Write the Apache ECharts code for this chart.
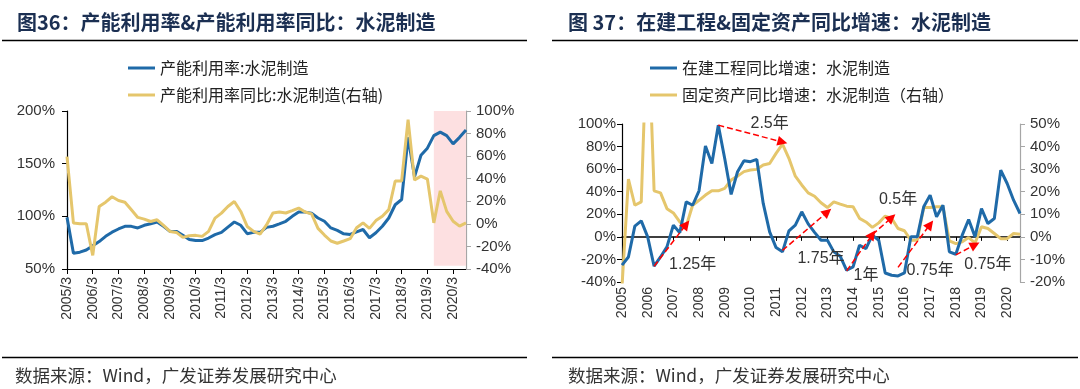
<!DOCTYPE html>
<html><head><meta charset="utf-8">
<script src="https://cdn.jsdelivr.net/npm/echarts@6/dist/echarts.min.js"></script>
<style>html,body{margin:0;padding:0;background:#fff}#c{width:1080px;height:389px}</style>
</head><body><div id="c"></div>
<script>
// ---------- DATA ----------
const quarters = [
 "2005/3","2005/6","2005/9","2005/12","2006/3","2006/6","2006/9","2006/12",
 "2007/3","2007/6","2007/9","2007/12","2008/3","2008/6","2008/9","2008/12",
 "2009/3","2009/6","2009/9","2009/12","2010/3","2010/6","2010/9","2010/12",
 "2011/3","2011/6","2011/9","2011/12","2012/3","2012/6","2012/9","2012/12",
 "2013/3","2013/6","2013/9","2013/12","2014/3","2014/6","2014/9","2014/12",
 "2015/3","2015/6","2015/9","2015/12","2016/3","2016/6","2016/9","2016/12",
 "2017/3","2017/6","2017/9","2017/12","2018/3","2018/6","2018/9","2018/12",
 "2019/3","2019/6","2019/9","2019/12","2020/3","2020/6","2020/9"
];
// Chart 36: capacity utilization (left axis, %) and its YoY (right axis, %)
const utilRate = [99,65,66,68,72,76,81,85,88,90.5,90.5,89,91.5,93,94.6,90.5,
 85.7,85.7,82,78,77,77,79.4,82.6,84.8,89.8,94.6,91.5,83.5,84.8,84.8,89.5,
 90.6,92.8,95.3,100,104,104,103,98.4,95.3,89,86.6,83.4,82.8,85.3,87.5,79.7,
 84.4,90.6,98.4,111,116,175,137.5,158,164.7,176.6,180,176.6,168.8,175,182];
const utilYoY = [59.6,0.7,0.1,0.1,-27.9,15.4,19.2,24,20.7,19.2,12.5,5.7,4.2,2.1,3.6,-1.4,
 -6.7,-7.6,-12,-10.5,-10.2,-11.1,-6.7,5.1,9.5,15.4,19.8,11,-2.3,-6.7,-9.1,-1,
 9.6,10.5,9.6,11.7,14,10.5,8.8,-4,-9.9,-15.2,-17.2,-15.2,-13.1,-3.5,0.9,-4,
 2.9,6.7,12.6,38,38,92.3,38.8,42.3,39.7,0.9,29.2,11.1,2.3,-2,0.9];
const shadeFrom = "2019/6", shadeTo = "2020/9";
// Chart 37: construction-in-progress YoY (left axis) and fixed assets YoY (right axis)
const cipYoY = [-25,-17.8,9.5,14.2,0,-26,-17.8,-8.9,10.4,3.6,31,28,40.8,80.5,65,99,
 69.5,37.6,57.7,67.5,66.6,68.6,29.6,4.4,-9.5,-13.3,5.3,10.4,22.2,11.5,4,-3,
 -3,-13.3,-17.2,-29.6,-26.6,-7.4,-10.4,1.5,-3,-32,-34,-34.6,-32,0,0,26.6,
 37,17.8,28,-13.3,-15.4,1.5,15.4,0,25,11.8,16.3,59,47.3,32.5,20.7];
const faYoY = [-22,25.6,14,15.5,100,20.4,19.5,12.5,10.6,6.6,4.7,14,16.2,18.5,20.4,20.4,
 21.5,25.2,26.9,28.9,29.6,29.9,31.8,32.5,37,41.1,34.8,26.9,23,19.5,18,15.1,
 13,15.5,14.5,13.6,13.3,8.2,6.6,4.2,6.2,9.2,8.2,3.7,2.7,-1.5,-1.5,13,
 13,13.3,13.3,-1.8,-3,-2.2,-0.3,-2.7,4.5,3.7,1.5,-0.8,-0.8,1.5,1.2];
// lead-lag arrows: [start quarter, start value(left axis), end quarter, end value(left axis)]
const arrows = [
 ["2006/6",-26,"2007/9",11],
 ["2008/12",99,"2011/6",84],
 ["2011/6",-12,"2013/3",22],
 ["2013/12",-30,"2014/12",2],
 ["2014/12",2,"2015/9",17],
 ["2015/12",-27,"2017/3",11],
 ["2018/3",-16,"2018/12",-7]
];
// annotation texts: [text, quarter, value(left axis)]
const notes = [
 ["1.25年","2007/12",-25],
 ["2.5年","2010/12",100],
 ["1.75年","2012/12",-19],
 ["1年","2014/9",-34],
 ["0.5年","2015/12",33],
 ["0.75年","2017/3",-30],
 ["0.75年","2019/6",-25]
];
const names1 = ["产能利用率:水泥制造","产能利用率同比:水泥制造(右轴)"];
const names2 = ["在建工程同比增速：水泥制造","固定资产同比增速：水泥制造（右轴）"];
const titles = ["图36：产能利用率&产能利用率同比：水泥制造","图 37：在建工程&固定资产同比增速：水泥制造"];
const source = "数据来源：Wind，广发证券发展研究中心";

// ---------- STYLE ----------
const NUM = "'Liberation Sans', Arial, 'Noto Sans CJK SC', sans-serif";
const CJK = "'Noto Sans CJK SC', sans-serif";
const BLUE = '#1F6AA8', GOLD = '#E5C66C', LABEL = '#333';

function yAx(grid, pos, min, max, step, lineColor, margin) {
  return {
    type:'value', gridIndex:grid, position:pos, min:min, max:max, interval:step,
    axisLine:{show:true, onZero:false, lineStyle:{color:lineColor, width:1.2}},
    axisTick:{show:true, length:5, lineStyle:{color:lineColor}},
    splitLine:{show:false},
    axisLabel:{formatter:'{value}%', margin:margin, fontSize:15, color:LABEL, fontFamily:NUM}
  };
}

const option = {
  animation:false,
  backgroundColor:'#fff',
  title:[
    {text:titles[0], left:12, top:7, textStyle:{fontFamily:CJK, fontSize:20, fontWeight:'bold', color:'#1B2F52'}},
    {text:titles[1], left:563, top:7, textStyle:{fontFamily:CJK, fontSize:20, fontWeight:'bold', color:'#1B2F52'}},
    {text:source, left:10, top:362, textStyle:{fontFamily:CJK, fontSize:17.5, fontWeight:'normal', color:'#333'}},
    {text:source, left:563, top:362, textStyle:{fontFamily:CJK, fontSize:17.5, fontWeight:'normal', color:'#333'}}
  ],
  graphic:[
    {type:'line', shape:{x1:2,y1:40.5,x2:527,y2:40.5}, style:{stroke:'#000', lineWidth:1.5}},
    {type:'line', shape:{x1:552,y1:40.5,x2:1078,y2:40.5}, style:{stroke:'#000', lineWidth:1.5}},
    {type:'line', shape:{x1:2,y1:357.5,x2:527,y2:357.5}, style:{stroke:'#000', lineWidth:1.5}},
    {type:'line', shape:{x1:552,y1:357.5,x2:1078,y2:357.5}, style:{stroke:'#000', lineWidth:1.5}}
  ],
  legend:[
    {data:names1, orient:'vertical', left:128, top:60, padding:0, icon:'rect', itemWidth:27, itemHeight:3, itemGap:11,
     textStyle:{fontFamily:CJK, fontSize:16, color:'#222'}},
    {data:names2, orient:'vertical', left:650, top:60, padding:0, icon:'rect', itemWidth:27, itemHeight:3, itemGap:11,
     textStyle:{fontFamily:CJK, fontSize:16, color:'#222'}}
  ],
  grid:[
    {left:67, top:111, width:399, height:158},
    {left:622, top:124, width:398, height:158}
  ],
  xAxis:[
    {type:'category', gridIndex:0, data:quarters, boundaryGap:false,
     axisLine:{onZero:false, lineStyle:{color:'#000', width:1.2}},
     axisTick:{interval:3, length:5, lineStyle:{color:'#000'}},
     axisLabel:{interval:3, rotate:90, margin:8, fontSize:14, color:LABEL, fontFamily:NUM}},
    {type:'category', gridIndex:1, data:quarters, boundaryGap:false, position:'bottom',
     axisLine:{show:false, onZero:false}, axisTick:{show:false},
     axisLabel:{interval:3, rotate:90, margin:5, fontSize:14, color:LABEL, fontFamily:NUM,
       formatter:v=>v.split('/')[0]}},
    {type:'category', gridIndex:1, data:quarters, boundaryGap:false, position:'top',
     axisLine:{onZero:true, lineStyle:{color:'#000', width:1.5}},
     axisTick:{interval:3, inside:true, length:4, lineStyle:{color:'#000'}},
     axisLabel:{show:false}}
  ],
  yAxis:[
    yAx(0,'left',50,200,50,'#000',12),
    yAx(0,'right',-40,100,20,'#A6A6A6',10),
    yAx(1,'left',-40,100,20,'#000',6),
    yAx(1,'right',-20,50,10,'#A6A6A6',10)
  ],
  series:[
    {name:names1[0], type:'line', xAxisIndex:0, yAxisIndex:0, data:utilRate, showSymbol:false,
     color:BLUE, lineStyle:{width:3, color:BLUE}, z:3,
     markArea:{silent:true, itemStyle:{color:'#FDE0E1'},
       data:[[{coord:[shadeFrom,200]},{coord:[shadeTo,53]}]]}},
    {name:names1[1], type:'line', xAxisIndex:0, yAxisIndex:1, data:utilYoY, showSymbol:false,
     color:GOLD, lineStyle:{width:3, color:GOLD}, z:3},
    {name:names2[0], type:'line', xAxisIndex:1, yAxisIndex:2, data:cipYoY, showSymbol:false,
     color:BLUE, lineStyle:{width:3, color:BLUE}, z:3,
     markLine:{silent:true, symbol:['none','triangle'], symbolSize:10,
       lineStyle:{color:'#FF0000', type:'dashed', width:1.5}, label:{show:false},
       data:arrows.map(a=>[{coord:[a[0],a[1]]},{coord:[a[2],a[3]]}])},
     markPoint:{silent:true, symbol:'rect', symbolSize:1, itemStyle:{color:'rgba(0,0,0,0)'},
       label:{show:true, position:'inside', formatter:p=>p.name, fontSize:16, color:'#333', fontFamily:NUM},
       data:notes.map(n=>({name:n[0], coord:[n[1],n[2]]}))}},
    {name:names2[1], type:'line', xAxisIndex:1, yAxisIndex:3, data:faYoY, showSymbol:false,
     color:GOLD, lineStyle:{width:3, color:GOLD}, z:2}
  ]
};
const chart = echarts.init(document.getElementById('c'), null, {renderer:'canvas'});
chart.setOption(option);
</script></body></html>
